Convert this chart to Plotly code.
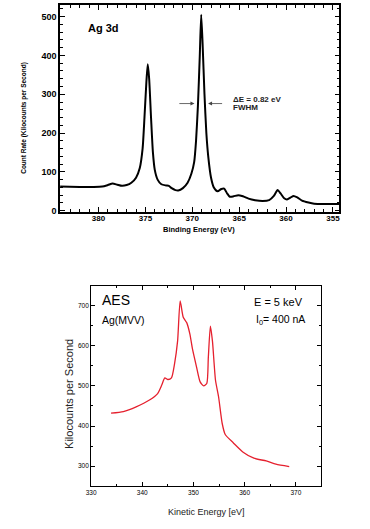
import plotly.graph_objects as go

# ---- Top panel: XPS Ag 3d ----
xps_energy = [384.1, 382.0, 380.5, 379.6, 379.0, 378.5, 378.0, 377.5, 377.0, 376.5,
              376.0, 375.6, 375.3, 375.1, 374.9, 374.75, 374.6, 374.4, 374.2, 374.0,
              373.7, 373.3, 372.8, 372.5, 372.2, 371.8, 371.5, 371.0, 370.5, 370.1,
              369.8, 369.6, 369.4, 369.2, 369.05, 368.9, 368.7, 368.5, 368.3, 368.0,
              367.7, 367.3, 366.9, 366.6, 366.3, 366.0, 365.6, 365.1, 364.6, 364.0,
              363.3, 362.5, 361.8, 361.3, 360.9, 360.6, 360.2, 359.9, 359.5, 359.2,
              358.8, 358.3, 357.6, 357.0, 356.0, 354.3]
xps_counts = [62, 61, 61, 62, 66, 70, 67, 64, 66, 72,
              85, 110, 160, 240, 330, 377, 340, 240, 150, 105,
              80, 68, 65, 64, 58, 53, 52, 58, 72, 95,
              125, 180, 270, 400, 505, 430, 300, 200, 140, 85,
              60, 50, 56, 57, 45, 36, 37, 40, 37, 31,
              27, 25, 27, 38, 53, 45, 32, 29, 34, 38,
              34, 26, 21, 18, 17, 17]
xps_xticks = [380, 375, 370, 365, 360, 355]
xps_yticks = [0, 100, 200, 300, 400, 500]

# ---- Bottom panel: AES Ag(MVV) ----
aes_energy = [333.9, 336.3, 338.8, 341.4, 343.0, 343.8, 344.4, 345.0, 345.7, 346.3,
              346.9, 347.4, 348.0, 348.7, 349.3, 349.8, 350.6, 351.3, 352.0, 352.6,
              352.9, 353.3, 353.7, 354.3, 354.9, 355.6, 356.2, 357.8, 359.7, 361.8,
              364.2, 366.1, 368.7]
aes_counts = [432, 436, 448, 465, 481, 502, 520, 516, 520, 555,
              612, 712, 671, 657, 629, 592, 547, 510, 500, 506,
              571, 649, 612, 514, 473, 407, 379, 358, 335, 320,
              313, 305, 299]
aes_xticks = [330, 340, 350, 360, 370]
aes_yticks = [300, 400, 500, 600, 700]

W, H = 370, 529
def px(x):
    return x / W
def py(y):
    return 1 - y / H

SANS = "Liberation Sans, Arial, sans-serif"

fig = go.Figure()
fig.add_trace(go.Scatter(x=xps_energy, y=xps_counts, mode="lines",
                         line=dict(color="black", width=2, shape="spline", smoothing=0.6),
                         xaxis="x", yaxis="y", showlegend=False, hoverinfo="skip"))
fig.add_trace(go.Scatter(x=aes_energy, y=aes_counts, mode="lines",
                         line=dict(color="#e5202e", width=1.3, shape="spline", smoothing=0.6),
                         xaxis="x2", yaxis="y2", showlegend=False, hoverinfo="skip"))

axis_common = dict(showgrid=False, zeroline=False, showline=True, linecolor="black",
                   mirror="allticks", ticks="inside", tickcolor="black")

fig.update_layout(
    width=W, height=H, autosize=False,
    margin=dict(l=0, r=0, t=0, b=0),
    paper_bgcolor="white", plot_bgcolor="white",
    xaxis=dict(**axis_common, domain=[px(56), px(340)], range=[384.1, 354.3],
               tickvals=xps_xticks, ticklen=5, tickwidth=1, linewidth=1.5,
               minor=dict(dtick=1, tick0=355, ticklen=3, ticks="inside", tickcolor="black"),
               tickfont=dict(family=SANS, size=8, color="black", weight="bold"),
               ticklabelstandoff=-2, anchor="y"),
    yaxis=dict(**axis_common, domain=[py(213.3), py(5)], range=[-2.6, 530],
               tickvals=xps_yticks, ticklen=5, tickwidth=1, linewidth=1.5,
               minor=dict(dtick=20, tick0=0, ticklen=3, ticks="inside", tickcolor="black"),
               tickfont=dict(family=SANS, size=9, color="black", weight="bold"),
               anchor="x"),
    xaxis2=dict(**axis_common, domain=[px(87.5), px(321.7)], range=[330, 375],
                tickvals=aes_xticks, ticklen=4, tickwidth=1, linewidth=1,
                minor=dict(dtick=5, tick0=330, ticklen=2, ticks="inside", tickcolor="black"),
                tickfont=dict(family=SANS, size=6.5, color="black"),
                anchor="y2"),
    yaxis2=dict(**axis_common, domain=[py(490), py(287.7)], range=[250, 750],
                tickvals=aes_yticks, ticklen=4, tickwidth=1, linewidth=1,
                minor=dict(dtick=50, tick0=250, ticklen=2, ticks="inside", tickcolor="black"),
                tickfont=dict(family=SANS, size=6.5, color="black"),
                anchor="x2"),
)

ann = []
# top panel texts
ann.append(dict(text="Ag 3d", x=px(82), y=py(28), xref="paper", yref="paper",
                xanchor="left", yanchor="middle", showarrow=False,
                font=dict(family=SANS, size=11, color="black", weight="bold")))
ann.append(dict(text="Count Rate (Kilocounts per Second)", x=px(19), y=py(119),
                xref="paper", yref="paper", textangle=-90, showarrow=False,
                xanchor="center", yanchor="middle",
                font=dict(family=SANS, size=6.5, color="black", weight="bold")))
ann.append(dict(text="Binding Energy (eV)", x=px(197), y=py(231),
                xref="paper", yref="paper", showarrow=False,
                xanchor="center", yanchor="middle",
                font=dict(family=SANS, size=7.5, color="black", weight="bold")))
ann.append(dict(text="ΔE = 0.82 eV", x=px(230), y=py(100.5), xref="paper", yref="paper",
                xanchor="left", yanchor="middle", showarrow=False,
                font=dict(family=SANS, size=8, color="#222", weight="bold")))
ann.append(dict(text="FWHM", x=px(230), y=py(108.5), xref="paper", yref="paper",
                xanchor="left", yanchor="middle", showarrow=False,
                font=dict(family=SANS, size=8, color="#222", weight="bold")))
# FWHM arrows
ann.append(dict(x=369.77, y=276, ax=371.54, ay=276, xref="x", yref="y", axref="x", ayref="y",
                text="", showarrow=True, arrowhead=2, arrowsize=1, arrowwidth=0.8,
                arrowcolor="#444"))
ann.append(dict(x=368.32, y=276, ax=366.66, ay=276, xref="x", yref="y", axref="x", ayref="y",
                text="", showarrow=True, arrowhead=2, arrowsize=1, arrowwidth=0.8,
                arrowcolor="#444"))
# bottom panel texts
ann.append(dict(text="AES", x=px(97), y=py(302), xref="paper", yref="paper",
                xanchor="left", yanchor="middle", showarrow=False,
                font=dict(family=SANS, size=14, color="black")))
ann.append(dict(text="Ag(MVV)", x=px(97), y=py(322), xref="paper", yref="paper",
                xanchor="left", yanchor="middle", showarrow=False,
                font=dict(family=SANS, size=10.5, color="black")))
ann.append(dict(text="E = 5 keV", x=px(305), y=py(304), xref="paper", yref="paper",
                xanchor="right", yanchor="middle", showarrow=False,
                font=dict(family=SANS, size=11, color="black")))
ann.append(dict(text="I<sub>0</sub>= 400 nA", x=px(307), y=py(322), xref="paper", yref="paper",
                xanchor="right", yanchor="middle", showarrow=False,
                font=dict(family=SANS, size=10.5, color="black")))
ann.append(dict(text="Kilocounts per Second", x=px(65), y=py(397), xref="paper", yref="paper",
                textangle=-90, xanchor="center", yanchor="middle", showarrow=False,
                font=dict(family=SANS, size=11, color="#222")))
ann.append(dict(text="Kinetic Energy [eV]", x=px(205), y=py(516), xref="paper", yref="paper",
                xanchor="center", yanchor="middle", showarrow=False,
                font=dict(family=SANS, size=9, color="#222")))
fig.update_layout(annotations=ann)

# remove the page's default body margin so the figure fills the window exactly
fig.write_html("out.html", config={"displayModeBar": False},
               post_script="document.body.style.margin='0';")
